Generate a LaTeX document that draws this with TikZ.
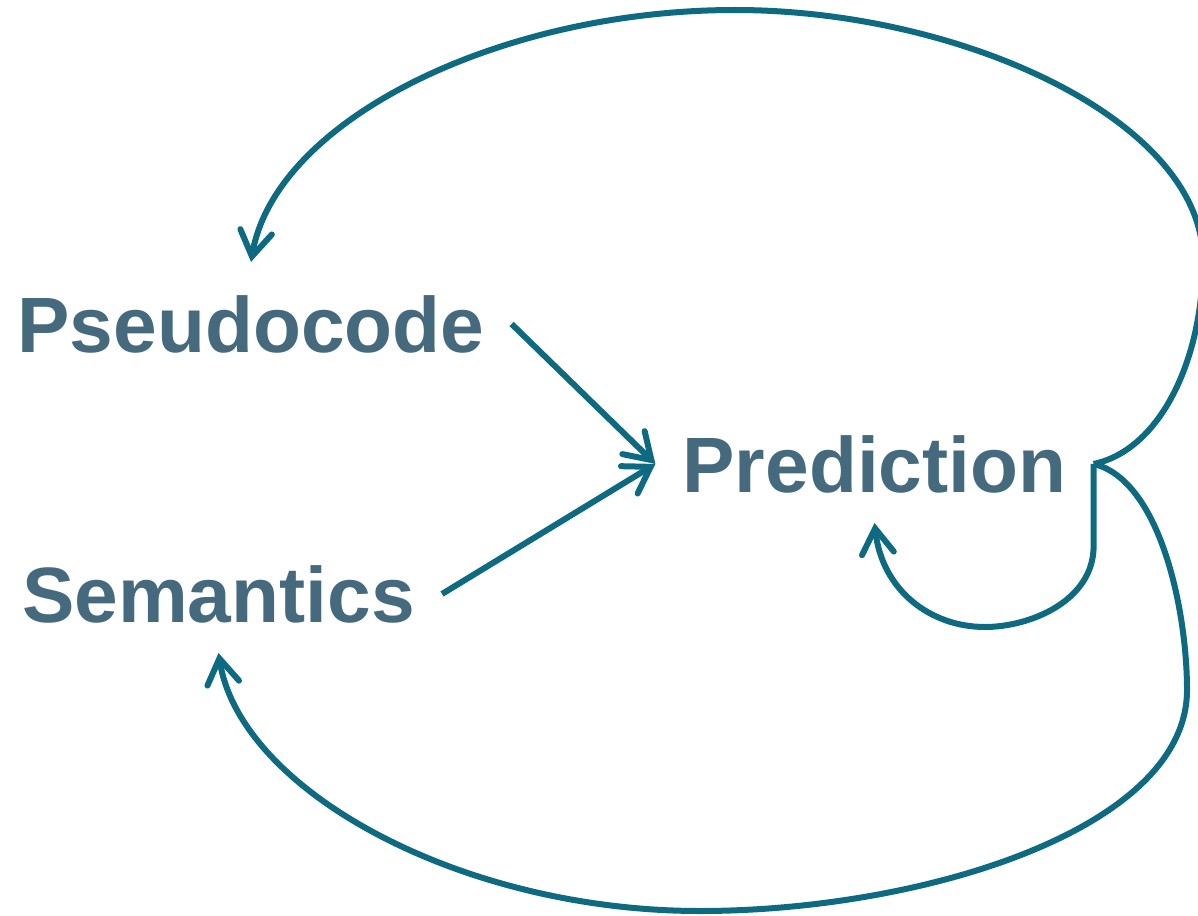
\documentclass[tikz,border=0pt]{standalone}
\usepackage{fontspec}
\setmainfont{Liberation Sans}
\usetikzlibrary{arrows.meta}
\definecolor{labelblue}{HTML}{45697D}
\definecolor{linkteal}{HTML}{0E6A80}
\tikzset{
  term/.style={font=\bfseries\fontsize{78.5}{90}\selectfont, text=labelblue,
    inner xsep=27pt, inner ysep=0pt, anchor=base},
  link/.style={draw=linkteal, line width=6pt,
    -{Straight Barb[length=25pt,width=32pt,line cap=round]}}
}
\begin{document}
\begin{tikzpicture}[x=1pt,y=-1pt]
  \useasboundingbox (0,0) rectangle (1198,915);

  \node[term] (pseudo) at (251,352) {Pseudocode};
  \node[term] (sem)    at (218.5,622) {Semantics};
  \node[term] (pred)   at (874.5,492) {Prediction};

  % inputs feeding the prediction
  \draw[link] (pseudo.east) -- (pred.west);
  \draw[link] (sem.east) -- (pred.west);

  % feedback over the top to the pseudocode
  \draw[link] (pred.east)
    .. controls (1160,450) and (1203,360) .. (1203,260)
    .. controls (1203,120) and (960,10) .. (735,10)
    .. controls (500,10) and (275,120) .. ([yshift=33pt]pseudo.north);

  % feedback round the bottom to the semantics
  \draw[link] (pred.east)
    .. controls (1160,480) and (1187,610) .. (1187,690)
    .. controls (1187,830) and (920,911) .. (700,911)
    .. controls (460,911) and (240,790) .. ([yshift=-30pt]sem.south);

  % self loop back into the prediction
  \draw[link] (pred.east) -- ++(0,82)
    .. controls +(0,55) and (1030,627) .. (985,627)
    .. controls (930,627) and (882,590) .. ([yshift=-30pt]pred.south);
\end{tikzpicture}
\end{document}
